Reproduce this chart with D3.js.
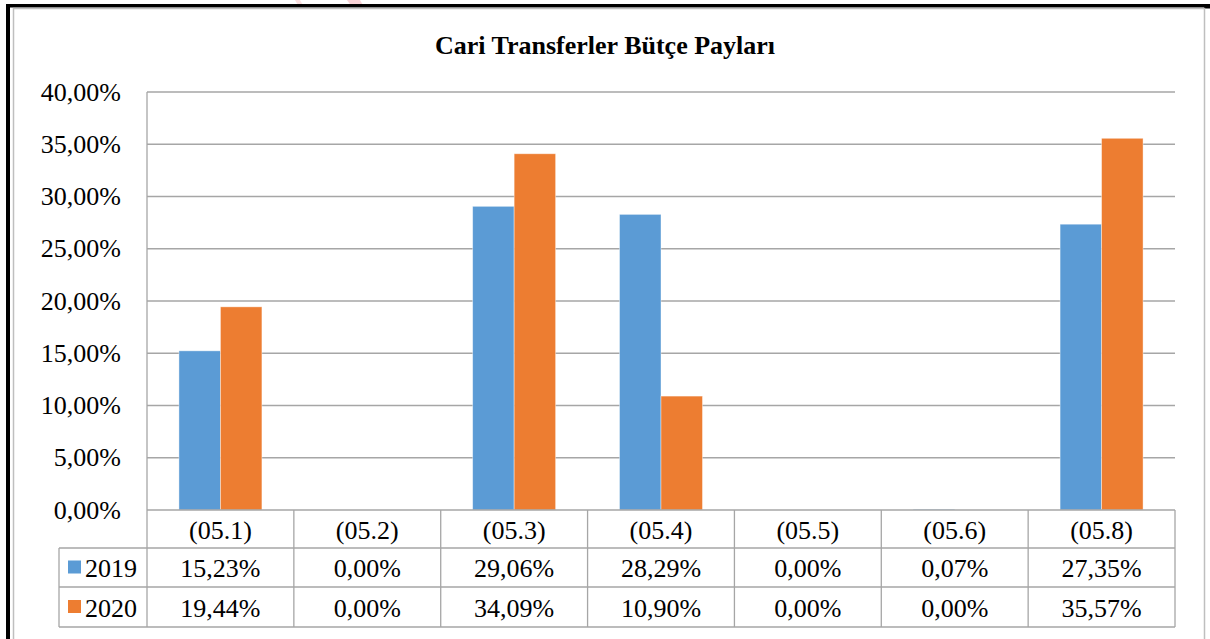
<!DOCTYPE html>
<html><head><meta charset="utf-8">
<script src="https://cdn.jsdelivr.net/npm/d3@7"></script>
<style>html,body{margin:0;padding:0;background:#fff;}svg{display:block;}</style>
</head><body>
<script>
const categories = ["(05.1)","(05.2)","(05.3)","(05.4)","(05.5)","(05.6)","(05.8)"];
const seriesNames = ["2019","2020"];
const values2019 = [15.23, 0.00, 29.06, 28.29, 0.00, 0.07, 27.35];
const values2020 = [19.44, 0.00, 34.09, 10.90, 0.00, 0.00, 35.57];
const yTicks = [0,5,10,15,20,25,30,35,40];
const title = "Cari Transferler Bütçe Payları";
const colors = ["#5B9BD5","#ED7D31"];

const W=1210,H=639;
const svg=d3.select("body").append("svg").attr("width",W).attr("height",H);
const font="'Liberation Serif','Times New Roman',serif";
const grid="#A6A6A6";

// faint watermark fragments at the top edge
svg.append("path").attr("d","M295,0L300,0L304,7L299,7Z").attr("fill","#F6C9CC").attr("opacity",0.6);
svg.append("path").attr("d","M347,0L360,0L364,7L352,7Z").attr("fill","#F4B4BA").attr("opacity",0.6);

// outer frame
svg.append("rect").attr("x",6).attr("y",4).attr("width",W-6).attr("height",3.5).attr("fill","#000");
svg.append("rect").attr("x",6).attr("y",4).attr("width",4).attr("height",H-4).attr("fill","#000");
svg.append("rect").attr("x",1204).attr("y",7).attr("width",6).attr("height",1.5).attr("fill","#000");
svg.append("path").attr("d",`M13.5,${H}V8.5H1204.5V${H}`).attr("fill","none").attr("stroke","#BFBFBF").attr("stroke-width",1.5);

const L=147,R=1175,T=92,B=510;
const rowH=[548,587,627];

const y=d3.scaleLinear().domain([0,40]).range([B,T]);
const x=d3.scaleBand().domain(categories).range([L,R]).paddingInner(0.435).paddingOuter(0.2175);
const xCol=d3.scaleBand().domain(categories).range([L,R]);
const xs=d3.scaleBand().domain(seriesNames).range([0,x.bandwidth()]);

// title
svg.append("text").attr("x",605).attr("y",54).attr("text-anchor","middle")
  .attr("font-family",font).attr("font-weight","bold").attr("font-size",26).attr("fill","#000").text(title);

// gridlines
svg.append("g").selectAll("line").data(yTicks.filter(d=>d>0)).join("line")
  .attr("x1",L).attr("x2",R).attr("y1",d=>y(d)).attr("y2",d=>y(d))
  .attr("stroke",grid).attr("stroke-width",1.3);

// y labels
const fmt=d=>d3.format(".2f")(d).replace(".",",")+"%";
svg.append("g").selectAll("text").data(yTicks).join("text")
  .attr("x",121).attr("y",d=>y(d)+8.5).attr("text-anchor","end")
  .attr("font-family",font).attr("font-size",26).attr("fill","#000").text(fmt);

// bars
const data=[values2019,values2020];
const g=svg.append("g");
seriesNames.forEach((s,si)=>{
  g.selectAll("rect.s"+si).data(categories).join("rect")
   .attr("x",c=>x(c)+xs(s)).attr("width",xs.bandwidth())
   .attr("y",(c,i)=>y(data[si][i])).attr("height",(c,i)=>B-y(data[si][i]))
   .attr("fill",colors[si]).attr("stroke","#fff").attr("stroke-opacity",0.5).attr("stroke-width",0.8);
});

// table lines
const tl=svg.append("g").attr("stroke",grid).attr("stroke-width",1.3);
tl.append("line").attr("x1",L).attr("x2",R).attr("y1",B).attr("y2",B);
rowH.forEach(h=>tl.append("line").attr("x1",59).attr("x2",R).attr("y1",h).attr("y2",h));
tl.append("line").attr("x1",L).attr("x2",L).attr("y1",T).attr("y2",rowH[2]);
tl.append("line").attr("x1",59).attr("x2",59).attr("y1",rowH[0]).attr("y2",rowH[2]);
categories.forEach(c=>tl.append("line").attr("x1",xCol(c)+xCol.bandwidth()).attr("x2",xCol(c)+xCol.bandwidth()).attr("y1",B).attr("y2",rowH[2]));

// table text
const tt=svg.append("g").attr("font-family",font).attr("font-size",26).attr("fill","#000").attr("text-anchor","middle");
tt.selectAll("text.c").data(categories).join("text").attr("class","c")
  .attr("x",c=>xCol(c)+xCol.bandwidth()/2).attr("y",538.5).text(c=>c);
data.forEach((vals,si)=>{
  tt.selectAll("text.v"+si).data(vals).join("text").attr("class","v"+si)
   .attr("x",(v,i)=>xCol(categories[i])+xCol.bandwidth()/2).attr("y",[577,616.5][si]).text(fmt);
});
// legend cells
seriesNames.forEach((s,si)=>{
  const cy=[567.5,607][si];
  svg.append("rect").attr("x",68).attr("y",cy-7).attr("width",13).attr("height",13).attr("fill",colors[si]);
  svg.append("text").attr("x",85).attr("y",cy+9.5).attr("font-family",font).attr("font-size",26).attr("fill","#000").text(s);
});
</script>
</body></html>
